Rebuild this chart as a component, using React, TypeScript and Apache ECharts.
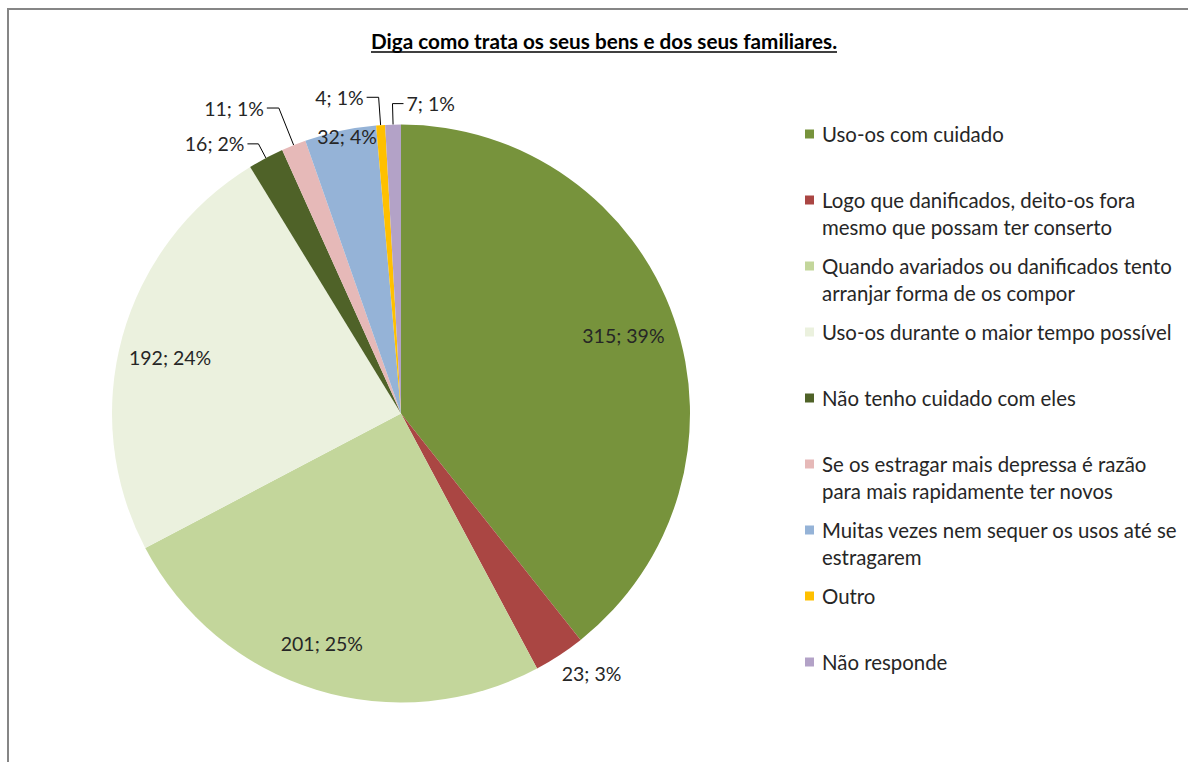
import React, { useEffect, useRef } from 'react';
import * as echarts from 'echarts';

// ---- data ----
const categories: string[] = [
  'Uso-os com cuidado',
  'Logo que danificados, deito-os fora mesmo que possam ter conserto',
  'Quando avariados ou danificados tento arranjar forma de os compor',
  'Uso-os durante o maior tempo possível',
  'Não tenho cuidado com eles',
  'Se os estragar mais depressa é razão para mais rapidamente ter novos',
  'Muitas vezes nem sequer os usos até se estragarem',
  'Outro',
  'Não responde',
];
const legendLines: string[][] = [
  ['Uso-os com cuidado'],
  ['Logo que danificados, deito-os fora', 'mesmo que possam ter conserto'],
  ['Quando avariados ou danificados tento', 'arranjar forma de os compor'],
  ['Uso-os durante o maior tempo possível'],
  ['Não tenho cuidado com eles'],
  ['Se os estragar mais depressa é razão', 'para mais rapidamente ter novos'],
  ['Muitas vezes nem sequer os usos até se', 'estragarem'],
  ['Outro'],
  ['Não responde'],
];
const values: number[] = [315, 23, 201, 192, 16, 11, 32, 4, 7];
const percentLabels: number[] = [39, 3, 25, 24, 2, 1, 4, 1, 1];
const titleText = 'Diga como trata os seus bens e dos seus familiares.';

// ---- styles ----
const colors = ['#77933C', '#AA4643', '#C3D69B', '#EBF1DE', '#4F6228', '#E6B9B8', '#95B3D7', '#FFC000', '#B3A2C7'];
const FONT = 'Lato, "Open Sans", sans-serif';
const CX = 401;
const CY = 413.5;
const R = 289;
// label placement: k = radial factor of label centre, dA = angle nudge (deg);
// lead/run/dir = leader line radial length, horizontal run, direction
const labelPlacement: any[] = [
  { k: 0.815, dA: 0 },
  { k: 1.115, dA: -3 },
  { k: 0.842, dA: 1.9 },
  { k: 0.822, dA: -1.8 },
  { lead: 16, run: 11, dir: -1 },
  { lead: 40, run: 12, dir: -1 },
  { k: 0.976, dA: 1.1 },
  { lead: 28, run: 12, dir: -1 },
  { lead: 21, run: 11, dir: 1 },
];
const LEGEND_X = 805;
const LEGEND_FIRST = 134;
const LEGEND_STEP = 66;
const LINE_H = 26.5;

const total = values.reduce((a, b) => a + b, 0);
const midDeg: number[] = [];
{
  let acc = 0;
  values.forEach((v) => {
    midDeg.push(((acc + v / 2) / total) * 360);
    acc += v;
  });
}

export default function App() {
  const ref = useRef<HTMLDivElement>(null);
  useEffect(() => {
    if (!ref.current) return;
    const chart = echarts.init(ref.current, undefined, { renderer: 'svg' });

    const legends = categories.map((name, i) => {
      const lines = legendLines[i];
      const twoLine = lines.length > 1;
      const lineCenter = LEGEND_FIRST + LEGEND_STEP * i;
      return {
        show: true,
        orient: 'vertical',
        left: LEGEND_X,
        top: twoLine ? lineCenter - 1.5 * LINE_H : lineCenter - LINE_H / 2,
        padding: 0,
        itemWidth: 9,
        itemHeight: 9,
        icon: 'rect',
        selectedMode: false,
        data: [name],
        formatter: () => (twoLine ? '\n' + lines.join('\n') : lines[0]),
        textStyle: {
          fontFamily: FONT,
          fontSize: 20.4,
          color: '#262626',
          lineHeight: LINE_H,
          padding: [0, 0, 0, 3],
        },
      };
    });

    const option: any = {
      animation: false,
      backgroundColor: '#ffffff',
      legend: legends,
      graphic: [
        {
          type: 'rect',
          shape: { x: 8, y: 9, width: 1400, height: 1000 },
          style: { fill: 'none', stroke: '#868686', lineWidth: 2 },
          silent: true,
        },
        {
          type: 'text',
          x: 604,
          y: 41,
          style: {
            text: titleText,
            fontFamily: FONT,
            fontWeight: 'bold',
            fontSize: 20.7,
            fill: '#000',
            textAlign: 'center',
            textVerticalAlign: 'middle',
          },
        },
        {
          type: 'line',
          shape: { x1: 371, y1: 52, x2: 837, y2: 52 },
          style: { stroke: '#000', lineWidth: 1.5 },
        },
      ],
      series: [
        {
          type: 'pie',
          center: [CX, CY],
          radius: R,
          startAngle: 90,
          clockwise: true,
          avoidLabelOverlap: false,
          emphasis: { disabled: true },
          itemStyle: { borderWidth: 0 },
          label: {
            show: true,
            position: 'outside',
            fontFamily: FONT,
            fontSize: 19.5,
            color: '#262626',
            formatter: (p: any) => `${values[p.dataIndex]}; ${percentLabels[p.dataIndex]}%`,
          },
          labelLine: { show: true, smooth: false, lineStyle: { color: '#000', width: 1 } },
          labelLayout: (params: any) => {
            const i = params.dataIndex;
            const pl = labelPlacement[i];
            const th = midDeg[i];
            if (pl.lead == null) {
              const a = ((th + pl.dA) * Math.PI) / 180;
              const rr = pl.k * R;
              return {
                x: CX + rr * Math.sin(a),
                y: CY - rr * Math.cos(a),
                align: 'center',
                verticalAlign: 'middle',
              };
            }
            const a = (th * Math.PI) / 180;
            const ex = CX + R * Math.sin(a);
            const ey = CY - R * Math.cos(a);
            const bx = CX + (R + pl.lead) * Math.sin(a);
            const by = CY - (R + pl.lead) * Math.cos(a);
            const hx = bx + pl.dir * pl.run;
            return {
              x: hx + pl.dir * 3,
              y: by,
              align: pl.dir < 0 ? 'right' : 'left',
              verticalAlign: 'middle',
              labelLinePoints: [
                [ex, ey],
                [bx, by],
                [hx, by],
              ],
            };
          },
          data: values.map((v, i) => ({
            value: v,
            name: categories[i],
            itemStyle: { color: colors[i] },
            labelLine: { show: labelPlacement[i].lead != null },
          })),
        },
      ],
    };
    chart.setOption(option);
    return () => chart.dispose();
  }, []);
  return (
    <div
      ref={ref}
      style={{ position: 'absolute', left: 0, top: 0, width: 1188, height: 762, background: '#fff' }}
    />
  );
}
